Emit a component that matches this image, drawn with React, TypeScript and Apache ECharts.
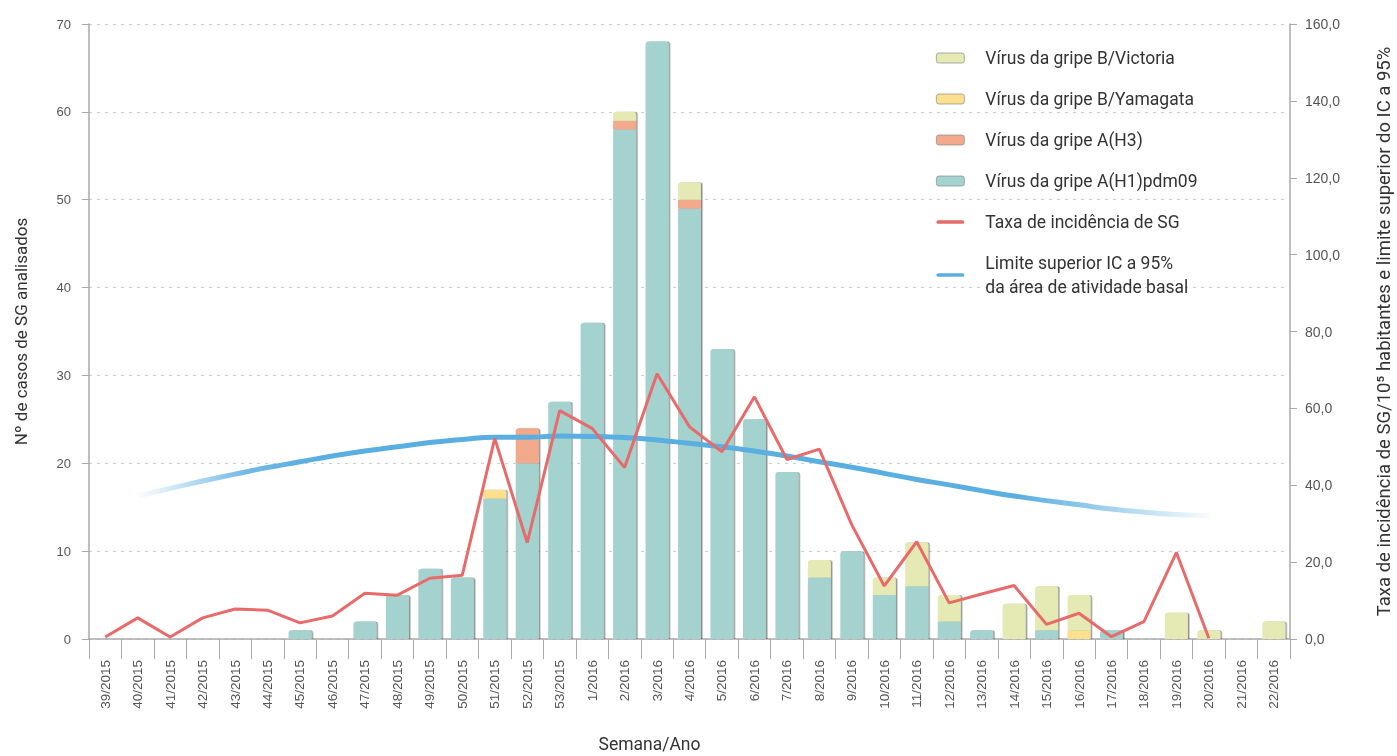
import React, { useEffect, useRef } from "react";
import * as echarts from "echarts";

const weeks = [
  "39/2015", "40/2015", "41/2015", "42/2015", "43/2015", "44/2015", "45/2015", "46/2015",
  "47/2015", "48/2015", "49/2015", "50/2015", "51/2015", "52/2015", "53/2015",
  "1/2016", "2/2016", "3/2016", "4/2016", "5/2016", "6/2016", "7/2016", "8/2016", "9/2016",
  "10/2016", "11/2016", "12/2016", "13/2016", "14/2016", "15/2016", "16/2016", "17/2016",
  "18/2016", "19/2016", "20/2016", "21/2016", "22/2016",
];

const h1pdm09 = [0, 0, 0, 0, 0, 0, 1, 0, 2, 5, 8, 7, 16, 20, 27,
  36, 58, 68, 49, 33, 25, 19, 7, 10, 5, 6, 2, 1, 0, 1, 0, 1, 0, 0, 0, 0, 0];
const h3 = [0, 0, 0, 0, 0, 0, 0, 0, 0, 0, 0, 0, 0, 4, 0,
  0, 1, 0, 1, 0, 0, 0, 0, 0, 0, 0, 0, 0, 0, 0, 0, 0, 0, 0, 0, 0, 0];
const yamagata = [0, 0, 0, 0, 0, 0, 0, 0, 0, 0, 0, 0, 1, 0, 0,
  0, 0, 0, 0, 0, 0, 0, 0, 0, 0, 0, 0, 0, 0, 0, 1, 0, 0, 0, 0, 0, 0];
const victoria = [0, 0, 0, 0, 0, 0, 0, 0, 0, 0, 0, 0, 0, 0, 0,
  0, 1, 0, 2, 0, 0, 0, 2, 0, 2, 5, 3, 0, 4, 5, 4, 0, 0, 3, 1, 0, 2];

const incidence = [0.5, 5.5, 0.5, 5.5, 7.8, 7.5, 4.2, 6.0, 11.9, 11.4, 15.8, 16.6, 52.2, 25.1, 59.4,
  54.8, 44.6, 69.0, 55.2, 48.7, 63.0, 46.7, 49.4, 29.7, 13.8, 25.3, 9.4, 11.7, 13.9, 3.8, 6.7, 0.6,
  4.5, 22.5, 0.2, null, null];
const upperLimit = [null, 37.2, 39.2, 41.1, 42.9, 44.6, 46.1, 47.6, 48.9, 50.0, 51.1, 51.9, 52.5, 52.5, 52.8,
  52.7, 52.4, 51.8, 50.9, 50.0, 48.9, 47.6, 46.1, 44.7, 43.1, 41.5, 40.1, 38.6, 37.2, 36.0, 34.9, 33.8,
  33.0, 32.4, 32.1, null, null];

const leftTicks = { min: 0, max: 70, interval: 10 };
const rightTicks = { min: 0, max: 160, interval: 20 };

const names = {
  vic: "Vírus da gripe B/Victoria",
  yam: "Vírus da gripe B/Yamagata",
  h3: "Vírus da gripe A(H3)",
  h1: "Vírus da gripe A(H1)pdm09",
  rate: "Taxa de incidência de SG",
  lim: "Limite superior IC a 95%\nda área de atividade basal",
};

const colors = {
  h1: "#a3d2cf",
  h3: "#f3a98c",
  yam: "#fde08d",
  vic: "#e5eab5",
  rate: "#e86a6a",
  lim: "#5aaee0",
};

export default function App() {
  const ref = useRef<HTMLDivElement>(null);

  useEffect(() => {
    if (!ref.current) return;
    const chart = echarts.init(ref.current, null, { renderer: "svg" });

    const stackOrder = [h1pdm09, h3, yamagata, victoria];
    const buildData = (arr: number[], level: number) =>
      arr.map((v, i) => {
        if (!v) return "-";
        let isTop = true;
        for (let k = level + 1; k < stackOrder.length; k++) {
          if (stackOrder[k][i]) isTop = false;
        }
        return {
          value: v,
          itemStyle: { borderRadius: isTop ? [3, 3, 0, 0] : 0 },
        };
      });

    const barBase = (name: string, data: any, color: string) => ({
      name,
      type: "bar",
      stack: "cases",
      barWidth: 23,
      yAxisIndex: 0,
      data,
      itemStyle: {
        color,
        shadowColor: "rgba(0,0,0,0.45)",
        shadowOffsetX: 1.5,
        shadowOffsetY: 0,
        shadowBlur: 1,
      },
      z: 2,
    });

    const fmt = (v: number) => v.toFixed(1).replace(".", ",");
    const lineIcon = "path://M2,0 L28,0 A2,2 0 0 1 28,4 L2,4 A2,2 0 0 1 2,0 Z";
    const barLegendStyle = { borderColor: "#8a8a8a", borderWidth: 0.7 };

    chart.setOption({
      animation: false,
      textStyle: { fontFamily: "Roboto" },
      grid: {
        left: 89,
        right: 107,
        top: 24,
        bottom: 117,
        containLabel: false,
        outerBoundsMode: "none",
      },
      legend: {
        orient: "vertical",
        left: 931,
        top: 41,
        itemWidth: 28,
        itemHeight: 10,
        itemGap: 17,
        textStyle: {
          fontSize: 17.5,
          color: "#333",
          lineHeight: 24,
          fontFamily: "Roboto",
          padding: [0, 0, 0, 16],
        },
        data: [
          { name: names.vic, itemStyle: barLegendStyle },
          { name: names.yam, itemStyle: barLegendStyle },
          { name: names.h3, itemStyle: barLegendStyle },
          { name: names.h1, itemStyle: barLegendStyle },
          {
            name: names.rate,
            icon: lineIcon,
            itemStyle: { color: colors.rate, borderWidth: 0 },
            lineStyle: { color: colors.rate, width: 0 },
          },
          {
            name: names.lim,
            icon: lineIcon,
            itemStyle: { color: colors.lim, borderWidth: 0 },
            lineStyle: { color: colors.lim, width: 0 },
          },
        ],
      },
      xAxis: {
        type: "category",
        data: weeks,
        boundaryGap: true,
        name: "Semana/Ano",
        nameLocation: "middle",
        nameGap: 96,
        nameTextStyle: {
          fontSize: 17.5,
          color: "#333",
          fontFamily: "Roboto",
          padding: [0, 80, 0, 0],
        },
        axisLine: { lineStyle: { color: "#aaa", width: 1.5 } },
        axisTick: { show: true, length: 20, lineStyle: { color: "#aaa" } },
        axisLabel: {
          interval: 0,
          rotate: 90,
          margin: 21,
          fontSize: 13.5,
          color: "#555",
          fontFamily: "Liberation Sans",
        },
      },
      yAxis: [
        {
          type: "value",
          ...leftTicks,
          position: "left",
          name: "Nº de casos de SG analisados",
          nameLocation: "middle",
          nameGap: 60,
          nameRotate: 90,
          nameTextStyle: { fontSize: 17, color: "#333", fontFamily: "Roboto" },
          axisLine: { show: true, lineStyle: { color: "#aaa", width: 1.5 } },
          axisTick: { show: true, length: 7, lineStyle: { color: "#aaa" } },
          axisLabel: { fontSize: 13, color: "#555", margin: 18, fontFamily: "Liberation Sans" },
          splitLine: { show: true, lineStyle: { color: "#cfcfcf", type: [3, 5] } },
        },
        {
          type: "value",
          ...rightTicks,
          position: "right",
          name: "Taxa de incidência de SG/10⁵ habitantes e limite superior do IC a 95%",
          nameLocation: "middle",
          nameGap: 84,
          nameRotate: 90,
          nameTextStyle: { fontSize: 18.5, color: "#333", fontFamily: "Roboto" },
          axisLine: { show: true, lineStyle: { color: "#aaa", width: 1.5 } },
          axisTick: { show: true, length: 7, lineStyle: { color: "#aaa" } },
          axisLabel: { fontSize: 14, color: "#555", margin: 15, formatter: fmt, fontFamily: "Liberation Sans" },
          splitLine: { show: false },
        },
      ],
      series: [
        barBase(names.h1, buildData(h1pdm09, 0), colors.h1),
        barBase(names.h3, buildData(h3, 1), colors.h3),
        barBase(names.yam, buildData(yamagata, 2), colors.yam),
        barBase(names.vic, buildData(victoria, 3), colors.vic),
        {
          name: names.lim,
          type: "line",
          yAxisIndex: 1,
          data: upperLimit,
          smooth: true,
          symbol: "none",
          z: 3,
          lineStyle: {
            width: 5,
            color: new echarts.graphic.LinearGradient(0, 0, 1, 0, [
              { offset: 0, color: "rgba(90,174,224,0.02)" },
              { offset: 0.1, color: "rgba(90,174,224,0.85)" },
              { offset: 0.16, color: colors.lim },
              { offset: 0.82, color: colors.lim },
              { offset: 0.9, color: "rgba(90,174,224,0.6)" },
              { offset: 1, color: "rgba(90,174,224,0.05)" },
            ]),
          },
          itemStyle: { color: colors.lim },
        },
        {
          name: names.rate,
          type: "line",
          yAxisIndex: 1,
          data: incidence,
          symbol: "none",
          z: 4,
          lineStyle: { width: 3, color: colors.rate },
          itemStyle: { color: colors.rate },
        },
      ],
    });

    return () => chart.dispose();
  }, []);

  return (
    <div
      ref={ref}
      style={{ position: "fixed", left: 0, top: 0, width: 1397, height: 756 }}
    />
  );
}
